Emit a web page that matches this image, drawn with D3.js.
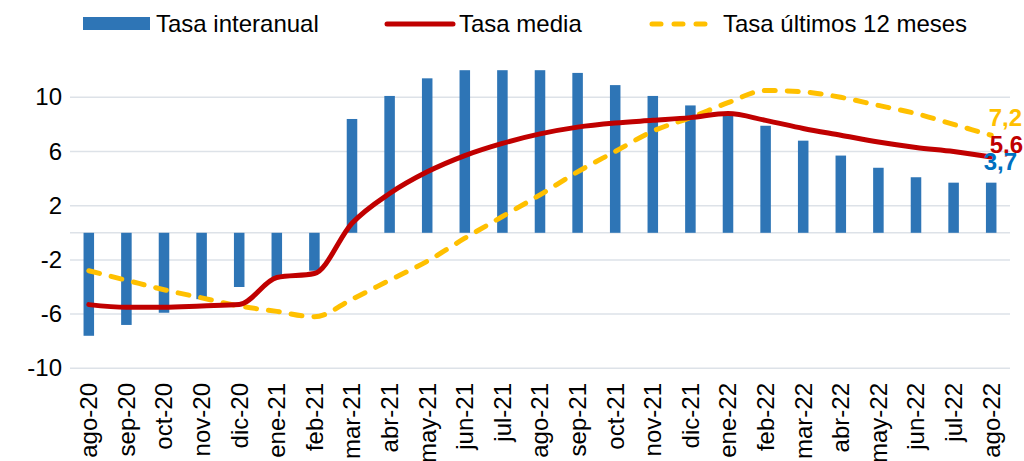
<!DOCTYPE html>
<html><head><meta charset="utf-8">
<script src="https://cdn.jsdelivr.net/npm/d3@7"></script>
<style>body{margin:0;background:#fff}svg{display:block}text{font-family:"Liberation Sans",Arial,sans-serif}</style>
</head><body><svg id="c" width="1024" height="461"></svg>
<script>
const categories = ["ago-20","sep-20","oct-20","nov-20","dic-20","ene-21","feb-21","mar-21","abr-21","may-21","jun-21","jul-21","ago-21","sep-21","oct-21","nov-21","dic-21","ene-22","feb-22","mar-22","abr-22","may-22","jun-22","jul-22","ago-22"];
const tasaInteranual = [-7.6,-6.8,-5.9,-4.9,-4.0,-3.3,-2.8,8.4,10.1,11.4,12.0,12.0,12.0,11.8,10.9,10.1,9.4,8.8,7.9,6.8,5.7,4.8,4.1,3.7,3.7];
const tasaMedia = [-5.3,-5.5,-5.5,-5.4,-5.3,-3.3,-3.0,0.7,2.9,4.5,5.7,6.6,7.3,7.8,8.1,8.3,8.5,8.8,8.3,7.7,7.2,6.7,6.3,6.0,5.6];
const tasa12 = [-2.8,-3.5,-4.2,-4.8,-5.4,-5.8,-6.2,-4.9,-3.5,-2.1,-0.4,1.2,2.8,4.5,6.0,7.5,8.5,9.6,10.5,10.4,10.0,9.4,8.8,8.0,7.2];
const yTicks = [-10,-6,-2,2,6,10];
const gridVals = [-10,-6,-2,0,2,6,10];
const seriesNames = ["Tasa interanual","Tasa media","Tasa últimos 12 meses"];
const endLabels = ["3,7","5,6","7,2"];

const C_BAR="#2E75B6", C_RED="#C00000", C_YEL="#FFC000", C_LBLUE="#0070C0";
const svg = d3.select("#c");
const L=70, R=1010;
const x = d3.scaleBand().domain(categories).range([L,R]).padding(0);
const y = d3.scaleLinear().domain([-10,10]).range([368.3,97.3]);
const fs = 24;
const FF = "Liberation Sans, Arial, sans-serif";

// grid
svg.append("g").selectAll("line").data(gridVals).join("line")
  .attr("x1",L).attr("x2",R).attr("y1",d=>y(d)).attr("y2",d=>y(d))
  .attr("stroke","#DDE2E8").attr("stroke-width",1.5);

// y axis labels
const yAxis = d3.axisLeft(y).tickValues(yTicks).tickSize(0).tickPadding(8).tickFormat(d=>String(d));
const ga = svg.append("g").attr("transform",`translate(${L},0)`).call(yAxis);
ga.select(".domain").remove();
ga.selectAll("text").attr("font-size",fs).attr("fill","#000").style("font-family",FF);

// bars
const bw = x.bandwidth()*0.28;
svg.append("g").selectAll("rect").data(tasaInteranual).join("rect")
  .attr("x",(d,i)=>x(categories[i])+x.bandwidth()/2-bw/2)
  .attr("width",bw)
  .attr("y",d=>y(Math.max(0,d)))
  .attr("height",d=>Math.abs(y(d)-y(0)))
  .attr("fill",C_BAR);

// x labels
const xAxis = d3.axisBottom(x).tickSize(0).tickPadding(0);
const gx = svg.append("g").attr("transform",`translate(0,378)`).call(xAxis);
gx.select(".domain").remove();
gx.selectAll("text").attr("font-size",fs).attr("fill","#000")
  .style("font-family",FF)
  .attr("transform","rotate(-90)").attr("text-anchor","end").attr("dy","0.35em").attr("x",-5).attr("y",0);

const cx = i => x(categories[i])+x.bandwidth()/2;
const line = d3.line().x((d,i)=>cx(i)).y(d=>y(d)).curve(d3.curveMonotoneX);

svg.append("path").datum(tasa12).attr("d",line).attr("fill","none")
  .attr("stroke",C_YEL).attr("stroke-width",5).attr("stroke-dasharray","11,12").attr("stroke-linecap","round");
svg.append("path").datum(tasaMedia).attr("d",line).attr("fill","none")
  .attr("stroke",C_RED).attr("stroke-width",5).attr("stroke-linecap","round").attr("stroke-linejoin","round");

// end labels
const last = categories.length-1;
const lab = svg.append("g").attr("font-weight","bold").attr("font-size",24).style("font-family",FF);
lab.append("text").attr("x",1022).attr("y",y(tasa12[last])-9).attr("text-anchor","end").attr("fill",C_YEL).text(endLabels[2]);
lab.append("text").attr("x",1023).attr("y",y(tasaMedia[last])-4).attr("text-anchor","end").attr("fill",C_RED).text(endLabels[1]);
lab.append("text").attr("x",1017).attr("y",y(tasaInteranual[last])-13).attr("text-anchor","end").attr("fill",C_LBLUE).text(endLabels[0]);

// legend
const lg = svg.append("g").attr("font-size",24).style("font-family",FF);
lg.append("rect").attr("x",83).attr("y",17).attr("width",67).attr("height",13).attr("fill",C_BAR);
lg.append("text").attr("x",156).attr("y",32).text(seriesNames[0]);
lg.append("line").attr("x1",387).attr("x2",453).attr("y1",24).attr("y2",24).attr("stroke",C_RED).attr("stroke-width",5).attr("stroke-linecap","round");
lg.append("text").attr("x",459).attr("y",32).text(seriesNames[1]);
lg.append("line").attr("x1",652).attr("x2",716).attr("y1",24).attr("y2",24).attr("stroke",C_YEL).attr("stroke-width",5).attr("stroke-dasharray","9,13").attr("stroke-linecap","round");
lg.append("text").attr("x",723).attr("y",32).text(seriesNames[2]);
</script></body></html>
